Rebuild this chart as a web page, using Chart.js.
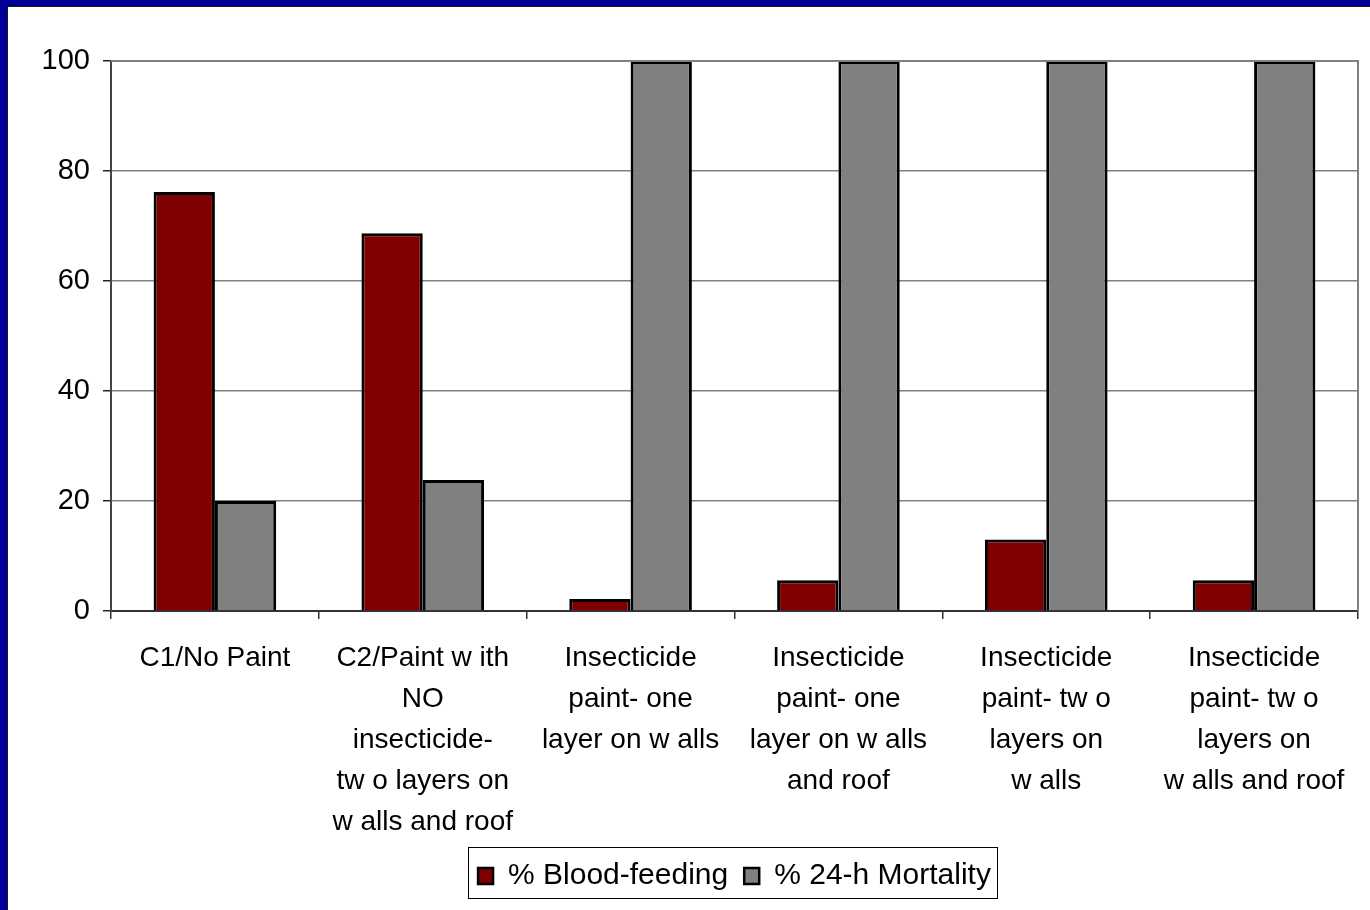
<!DOCTYPE html>
<html>
<head>
<meta charset="utf-8">
<script src="https://cdn.jsdelivr.net/npm/chart.js@4.4.1/dist/chart.umd.min.js"></script>
<style>
  html, body { margin: 0; padding: 0; background: #000099; width: 1370px; height: 910px; overflow: hidden; }
  #frame { position: absolute; left: 7px; top: 6px; width: 1363px; height: 904px;
           border-left: 1px solid #1a1a1a; border-top: 1px solid #1a1a1a; background: #ffffff; }
  #chart { display: block; }
</style>
</head>
<body>
<div id="frame"><canvas id="chart" width="1362" height="903"></canvas></div>
<script>
// Treatments (category labels, split into lines as laid out under the axis)
const categories = [
  ["C1/No Paint"],
  ["C2/Paint w ith", "NO", "insecticide-", "tw o layers on", "w alls and roof"],
  ["Insecticide", "paint- one", "layer on w alls"],
  ["Insecticide", "paint- one", "layer on w alls", "and roof"],
  ["Insecticide", "paint- tw o", "layers on", "w alls"],
  ["Insecticide", "paint- tw o", "layers on", "w alls and roof"]
];
const seriesNames = ["% Blood-feeding", "% 24-h Mortality"];
const bloodFeeding = [76.2, 68.7, 2.2, 5.6, 13.0, 5.6];
const mortality = [20, 23.8, 100, 100, 100, 100];
const yTicks = [0, 20, 40, 60, 80, 100];

const FONT = "'Liberation Sans', Arial, sans-serif";

// Plot-area frame on the top/right sides plus a box around the legend
const framePlugin = {
  id: 'framePlugin',
  afterDatasetsDraw(chart) {
    const { ctx, chartArea: a } = chart;
    ctx.save();
    ctx.strokeStyle = '#808080';
    ctx.lineWidth = 2;
    ctx.beginPath();
    ctx.moveTo(a.left, a.top);
    ctx.lineTo(a.right, a.top);
    ctx.lineTo(a.right, a.bottom);
    ctx.stroke();
    ctx.restore();
  },
  afterDraw(chart) {
    const lg = chart.legend;
    if (!lg || !lg.legendHitBoxes || !lg.legendHitBoxes.length) return;
    const boxes = lg.legendHitBoxes;
    let l = Infinity, r = -Infinity, t = Infinity, b = -Infinity;
    boxes.forEach(h => {
      l = Math.min(l, h.left); r = Math.max(r, h.left + h.width);
      t = Math.min(t, h.top); b = Math.max(b, h.top + h.height);
    });
    const cy = (t + b) / 2;
    const ctx = chart.ctx;
    ctx.save();
    ctx.strokeStyle = '#000';
    ctx.lineWidth = 1;
    ctx.strokeRect(Math.round(l - 10) + 0.5, Math.round(cy - 29.5) + 0.5, Math.round(r - l + 16), 51);
    ctx.restore();
  }
};

new Chart(document.getElementById('chart'), {
  type: 'bar',
  data: {
    labels: categories,
    datasets: [
      { label: seriesNames[0], data: bloodFeeding, backgroundColor: '#800000',
        borderColor: '#000000', borderWidth: 3, borderSkipped: 'bottom' },
      { label: seriesNames[1], data: mortality, backgroundColor: '#808080',
        borderColor: '#000000', borderWidth: 3, borderSkipped: 'bottom' }
    ]
  },
  options: {
    responsive: false,
    animation: false,
    devicePixelRatio: 1,
    datasets: { bar: { categoryPercentage: 0.59, barPercentage: 1.0 } },
    layout: { padding: { top: 54, right: 12, bottom: 9, left: 0 } },
    plugins: {
      tooltip: { enabled: false },
      legend: {
        position: 'bottom',
        fullSize: false,
        labels: {
          font: { family: FONT, size: 30 },
          color: '#000',
          boxWidth: 15,
          boxHeight: 16,
          padding: 16,
          generateLabels(chart) {
            return chart.data.datasets.map((ds, i) => ({
              text: ds.label,
              fillStyle: ds.backgroundColor,
              strokeStyle: '#000',
              lineWidth: 2.5,
              fontColor: '#000',
              datasetIndex: i
            }));
          }
        }
      }
    },
    scales: {
      x: {
        grid: { display: true, drawOnChartArea: false, drawTicks: true, tickLength: 8,
                color: '#333', lineWidth: 1.5, offset: true },
        border: { display: true, color: '#333', width: 2 },
        ticks: {
          font: { family: FONT, size: 28, lineHeight: 41 / 28 },
          color: '#000',
          maxRotation: 0, minRotation: 0, autoSkip: false,
          padding: 19
        },
        afterFit(scale) { scale.height = 234; }
      },
      y: {
        min: 0, max: 100,
        afterBuildTicks(scale) { scale.ticks = yTicks.map(v => ({ value: v })); },
        grid: { color: '#808080', lineWidth: 1.5, tickLength: 8, tickColor: '#222',
                drawTicks: true },
        border: { display: true, color: '#444', width: 2 },
        ticks: {
          font: { family: FONT, size: 29 },
          color: '#000',
          padding: 13
        },
        afterFit(scale) { scale.width = 103; }
      }
    }
  },
  plugins: [framePlugin]
});
</script>
</body>
</html>
